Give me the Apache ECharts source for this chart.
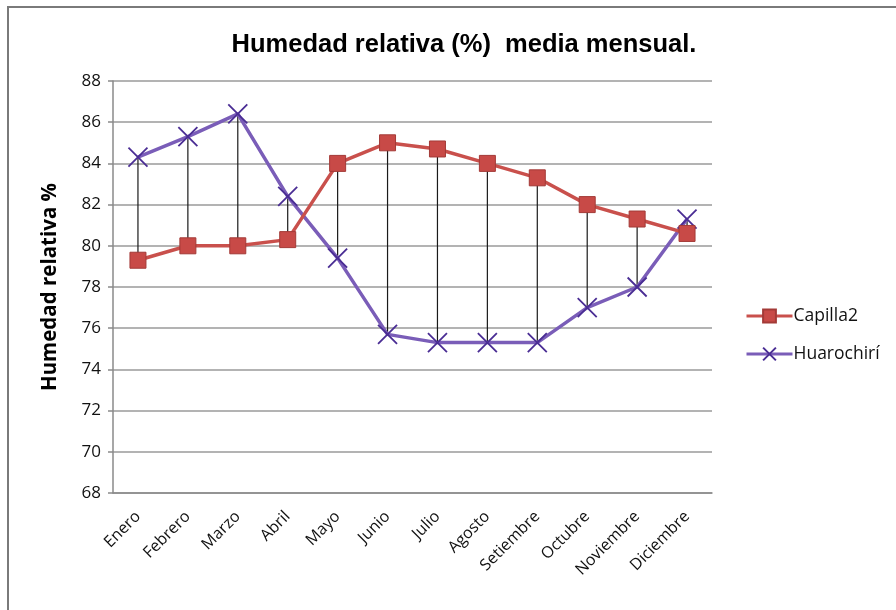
<!DOCTYPE html>
<html>
<head>
<meta charset="utf-8">
<script src="https://cdn.jsdelivr.net/npm/echarts@6/dist/echarts.min.js"></script>
<style>
  html, body { margin: 0; padding: 0; background: #fff; }
  #chart { width: 896px; height: 610px; }
</style>
</head>
<body>
<div id="chart"></div>
<script>
// Monthly mean relative humidity at two stations
const months = ['Enero', 'Febrero', 'Marzo', 'Abril', 'Mayo', 'Junio', 'Julio',
                'Agosto', 'Setiembre', 'Octubre', 'Noviembre', 'Diciembre'];
const capilla2 = [79.3, 80.0, 80.0, 80.3, 84.0, 85.0, 84.7, 84.0, 83.3, 82.0, 81.3, 80.6];
const huarochiri = [84.3, 85.3, 86.4, 82.4, 79.4, 75.7, 75.3, 75.3, 75.3, 77.0, 78.0, 81.3];
const yTicks = { min: 68, max: 88, interval: 2 };

// high-low connector between the two series for each month
const spanData = months.map((m, i) => [i, capilla2[i], huarochiri[i]]);

const chart = echarts.init(document.getElementById('chart'), null, { renderer: 'canvas' });

const labelFont = '"Open Sans", "Liberation Sans", sans-serif';

chart.setOption({
  backgroundColor: '#ffffff',
  animation: false,
  title: {
    text: 'Humedad relativa (%)  media mensual.',
    left: 459,
    top: 27,
    textAlign: 'center',
    textStyle: {
      fontFamily: '"Liberation Sans", Arial, sans-serif',
      fontWeight: 'bold',
      fontSize: 25.5,
      color: '#000'
    }
  },
  graphic: [{
    type: 'rect',
    shape: { x: 8, y: 7, width: 900, height: 620 },
    style: { fill: 'none', stroke: '#7a7a7a', lineWidth: 2 },
    silent: true,
    z: 100
  }],
  legend: {
    orient: 'vertical',
    left: 740,
    top: 302,
    itemWidth: 46,
    itemHeight: 16,
    itemGap: 20,
    lineStyle: { width: 3 },
    textStyle: { fontFamily: labelFont, fontSize: 17.5, color: '#111', padding: [0, 0, 0, -4] },
    data: ['Capilla2', 'Huarochirí']
  },
  grid: { left: 113, right: 184, top: 81, bottom: 117, containLabel: false },
  xAxis: {
    type: 'category',
    data: months,
    boundaryGap: true,
    axisLine: { lineStyle: { color: '#8a8a8a', width: 1.5 } },
    axisTick: { show: false },
    axisLabel: {
      rotate: 45,
      margin: 21,
      interval: 0,
      fontFamily: labelFont,
      fontSize: 16,
      color: '#111'
    }
  },
  yAxis: {
    type: 'value',
    min: yTicks.min,
    max: yTicks.max,
    interval: yTicks.interval,
    name: 'Humedad relativa %',
    nameLocation: 'middle',
    nameGap: 52,
    nameRotate: 90,
    nameTextStyle: {
      fontFamily: labelFont,
      fontWeight: 'bold',
      fontSize: 20.5,
      color: '#000'
    },
    axisLine: { show: true, lineStyle: { color: '#8a8a8a', width: 1.5 } },
    axisTick: { show: true, inside: false, length: 5, lineStyle: { color: '#8a8a8a', width: 1.5 } },
    axisLabel: { margin: 12, fontFamily: labelFont, fontSize: 17, color: '#111' },
    splitLine: { show: true, lineStyle: { color: '#9a9a9a', width: 1.5 } }
  },
  series: [
    {
      name: 'spans',
      type: 'custom',
      data: spanData,
      z: 1,
      silent: true,
      renderItem: function (params, api) {
        const a = api.coord([api.value(0), api.value(1)]);
        const b = api.coord([api.value(0), api.value(2)]);
        return {
          type: 'line',
          shape: { x1: a[0], y1: a[1], x2: b[0], y2: b[1] },
          style: { stroke: '#1a1a1a', lineWidth: 1.2 }
        };
      },
      encode: { x: 0, y: [1, 2] }
    },
    {
      name: 'Capilla2',
      type: 'line',
      data: capilla2,
      z: 3,
      symbol: 'rect',
      symbolSize: 16,
      showAllSymbol: true,
      lineStyle: { color: '#c9504c', width: 3.5 },
      itemStyle: { color: '#c84a47', borderColor: '#a33a37', borderWidth: 1 }
    },
    {
      name: 'Huarochirí',
      type: 'line',
      data: huarochiri,
      z: 2,
      symbol: 'path://M0,0L10,10M10,0L0,10',
      symbolSize: 19,
      showAllSymbol: true,
      lineStyle: { color: '#7a5db8', width: 3.5 },
      itemStyle: { color: '#4a2d94', borderColor: '#4a2d94', borderWidth: 1.8 }
    }
  ]
});
</script>
</body>
</html>
